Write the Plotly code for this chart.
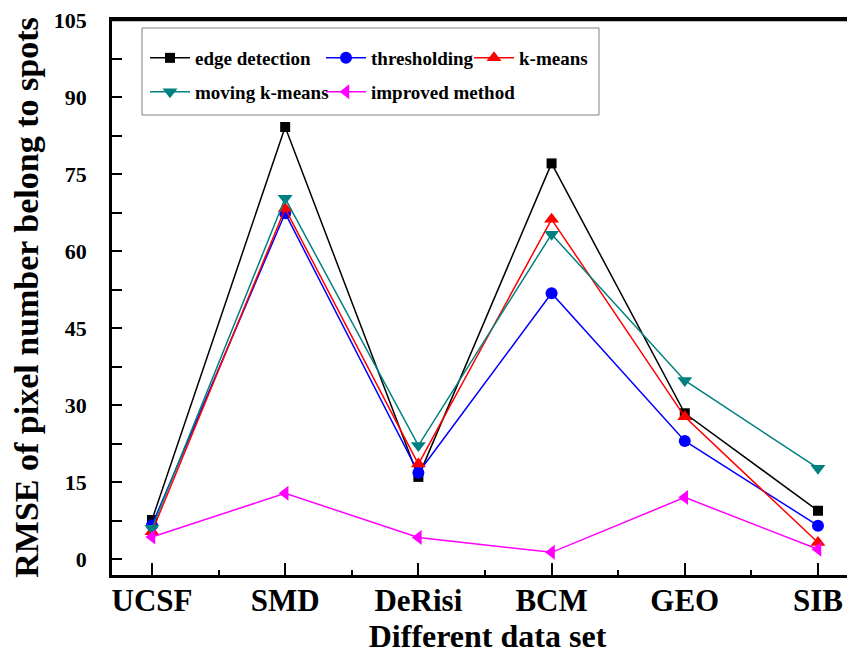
import plotly.graph_objects as go

categories = ["UCSF", "SMD", "DeRisi", "BCM", "GEO", "SIB"]
edge_detection = [7.6, 84.2, 16.0, 77.1, 28.4, 9.4]
thresholding = [6.6, 67.4, 16.8, 51.8, 23.0, 6.5]
k_means = [5.3, 68.3, 18.5, 66.2, 27.7, 3.2]
moving_k_means = [6.0, 70.3, 22.1, 63.3, 34.8, 17.7]
improved_method = [4.3, 12.8, 4.2, 1.3, 12.0, 1.9]

y_tickvals = [0, 15, 30, 45, 60, 75, 90, 105]

xs = list(range(len(categories)))
FONT = "Liberation Serif"

series = [
    ("edge detection", edge_detection, "#000000", "square", 10, "legend"),
    ("thresholding", thresholding, "#0000FF", "circle", 12, "legend2"),
    ("k-means", k_means, "#FF0000", "triangle-up", 13, "legend3"),
    ("moving k-means", moving_k_means, "#008080", "triangle-down", 13, "legend4"),
    ("improved method", improved_method, "#FF00FF", "triangle-left", 13, "legend5"),
]

fig = go.Figure()
for name, vals, col, sym, sz, lg in series:
    fig.add_trace(go.Scatter(
        x=xs, y=vals, name="<b>%s</b>" % name, mode="lines+markers",
        line=dict(color=col, width=1.5),
        marker=dict(symbol=sym, size=sz, color=col),
        legend=lg,
    ))

OFF = 8  # page body margin
W, H = 855, 660
L, R, T, B = 104, 0, 12, 93
pw = W - L - R
ph = H - T - B

def px_x(p):
    return (p - OFF - L) / pw

def px_y(p):
    return 1 - (p - OFF - T) / ph

def leg(xpix, ypix):
    return dict(x=px_x(xpix), y=px_y(ypix), xanchor="left", yanchor="middle",
                bgcolor="rgba(0,0,0,0)", borderwidth=0, itemwidth=40,
                font=dict(family=FONT, size=19, color="black"),
                orientation="h")

fig.update_layout(
    width=W, height=H,
    margin=dict(l=L, r=R, t=T, b=B, autoexpand=False),
    plot_bgcolor="white", paper_bgcolor="white",
    font=dict(family=FONT, color="black"),
    showlegend=True,
    legend=leg(145, 58),
    legend2=leg(321, 58),
    legend3=leg(469, 58),
    legend4=leg(145, 92),
    legend5=leg(321, 92),
    xaxis=dict(
        range=[-0.3, 5.338], automargin=False,
        tickmode="array", tickvals=xs, ticktext=["<b>%s</b>" % c for c in categories],
        tickfont=dict(family=FONT, size=31, color="black"),
        ticks="inside", ticklen=12, tickwidth=2, tickcolor="black",
        minor=dict(tickmode="array", tickvals=[i + 0.5 for i in xs[:-1]],
                   ticks="inside", ticklen=5, tickwidth=2, tickcolor="black"),
        showline=True, linewidth=2.5, linecolor="black", mirror=True,
        showgrid=False, zeroline=False,
        ticklabelstandoff=-4, ticklabeloverflow="allow",
        title=dict(text="<b>Different data set</b>",
                   font=dict(family=FONT, size=32, color="black"), standoff=4),
    ),
    yaxis=dict(
        range=[-3.12, 105.05], automargin=False,
        tickmode="array", tickvals=y_tickvals,
        ticktext=["<b>%d</b>" % v for v in y_tickvals],
        tickfont=dict(family=FONT, size=22, color="black"),
        ticks="inside", ticklen=10, tickwidth=2, tickcolor="black",
        minor=dict(tickmode="array", tickvals=[7.5 + 15 * i for i in range(7)],
                   ticks="inside", ticklen=10, tickwidth=2, tickcolor="black"),
        showline=True, linewidth=2.5, linecolor="black", mirror=False,
        showgrid=False, zeroline=False,
        ticklabelstandoff=18, ticklabeloverflow="allow",
        title=dict(text="<b>RMSE of pixel number belong to spots</b>",
                   font=dict(family=FONT, size=34, color="black"), standoff=8),
    ),
    shapes=[
        dict(type="rect", xref="paper", yref="paper",
             x0=px_x(142), x1=px_x(599), y0=px_y(115), y1=px_y(28),
             line=dict(color="#808080", width=1), fillcolor="rgba(0,0,0,0)"),
        dict(type="line", xref="paper", yref="paper", x0=0, x1=1, y0=1, y1=1,
             line=dict(color="black", width=2.5)),
    ],
)

fig.write_html("out.html")
